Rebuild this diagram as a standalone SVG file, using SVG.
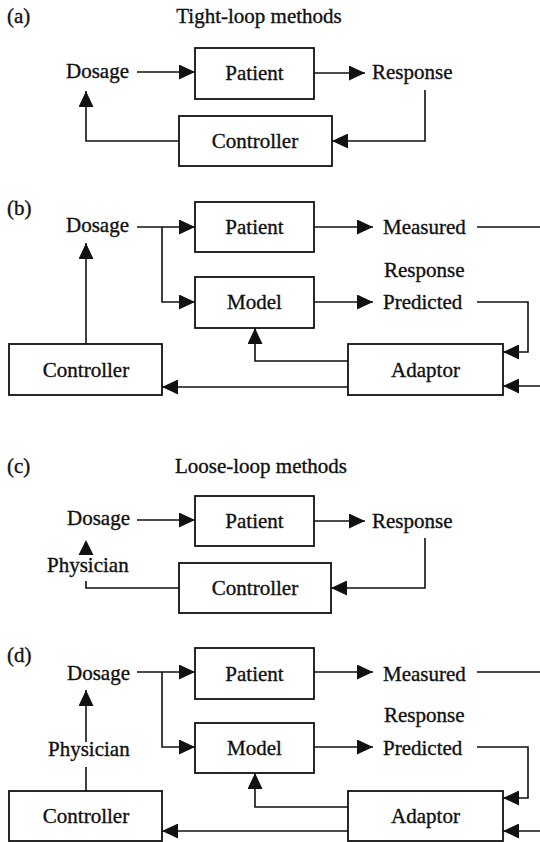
<svg xmlns="http://www.w3.org/2000/svg" width="540" height="842" viewBox="0 0 540 842">
  <style>
    text { font-family: "Liberation Serif", "Times New Roman", serif; font-size: 21px; fill: #111; stroke: #111; stroke-width: 0.35; }
    .mid { text-anchor: middle; }
    .box { fill: #fff; stroke: #111; stroke-width: 1.8; }
    .wire { fill: none; stroke: #111; stroke-width: 1.6; }
    .arr { marker-end: url(#head); }
  </style>
  <defs>
    <marker id="head" markerUnits="userSpaceOnUse" markerWidth="16" markerHeight="15" refX="16" refY="7.5" orient="auto">
      <path d="M0,0 L16,7.5 L0,15 z" fill="#111"/>
    </marker>
  </defs>

  <rect width="540" height="842" fill="#fff"/>

  <!-- (a) tight loop -->
  <text x="7" y="23">(a)</text>
  <text x="259" y="23" class="mid">Tight-loop methods</text>
  <g id="a-dosage"><text x="66" y="78">Dosage</text></g>
  <g id="a-patient"><rect class="box" x="195" y="48" width="119" height="51"/><text x="254.5" y="80" class="mid">Patient</text></g>
  <g id="a-response"><text x="372" y="79">Response</text></g>
  <g id="a-controller"><rect class="box" x="179" y="116" width="153" height="50"/><text x="255" y="148" class="mid">Controller</text></g>

  <!-- (b) tight loop with model -->
  <text x="7" y="215">(b)</text>
  <g id="b-dosage"><text x="66" y="232">Dosage</text></g>
  <g id="b-patient"><rect class="box" x="195" y="202" width="119" height="50"/><text x="254.5" y="234" class="mid">Patient</text></g>
  <g id="b-model"><rect class="box" x="195" y="277" width="119" height="51"/><text x="254.5" y="309" class="mid">Model</text></g>
  <g id="b-measured"><text x="383" y="234">Measured</text></g>
  <g id="b-response"><text x="384" y="277">Response</text></g>
  <g id="b-predicted"><text x="383" y="309">Predicted</text></g>
  <g id="b-controller"><rect class="box" x="9" y="344" width="153" height="51"/><text x="86" y="377" class="mid">Controller</text></g>
  <g id="b-adaptor"><rect class="box" x="348" y="344" width="155" height="51"/><text x="425.5" y="377" class="mid">Adaptor</text></g>

  <!-- (c) loose loop -->
  <text x="7" y="473">(c)</text>
  <text x="261" y="473" class="mid">Loose-loop methods</text>
  <g id="c-dosage"><text x="67" y="525">Dosage</text></g>
  <g id="c-patient"><rect class="box" x="195" y="496" width="119" height="50"/><text x="254.5" y="528" class="mid">Patient</text></g>
  <g id="c-response"><text x="372" y="528">Response</text></g>
  <g id="c-physician"><text x="47" y="572">Physician</text></g>
  <g id="c-controller"><rect class="box" x="179" y="563" width="152" height="50"/><text x="255" y="595" class="mid">Controller</text></g>

  <!-- (d) loose loop with model -->
  <text x="7" y="662">(d)</text>
  <g id="d-dosage"><text x="67" y="680">Dosage</text></g>
  <g id="d-patient"><rect class="box" x="195" y="648" width="119" height="51"/><text x="254.5" y="681" class="mid">Patient</text></g>
  <g id="d-model"><rect class="box" x="195" y="723" width="119" height="50"/><text x="254.5" y="755" class="mid">Model</text></g>
  <g id="d-measured"><text x="383" y="681">Measured</text></g>
  <g id="d-response"><text x="384" y="722">Response</text></g>
  <g id="d-predicted"><text x="383" y="755">Predicted</text></g>
  <g id="d-physician"><text x="48" y="756">Physician</text></g>
  <g id="d-controller"><rect class="box" x="9" y="791" width="153" height="50"/><text x="86" y="823" class="mid">Controller</text></g>
  <g id="d-adaptor"><rect class="box" x="348" y="791" width="155" height="50"/><text x="425.5" y="823" class="mid">Adaptor</text></g>

  <g id="connectors">
    <!-- (a) -->
    <path class="wire arr" d="M137,72 H195"/>
    <path class="wire arr" d="M314,73 H365"/>
    <path class="wire arr" d="M425,90 V141 H332"/>
    <path class="wire arr" d="M179,141 H86 V91"/>
    <!-- (b) -->
    <path class="wire arr" d="M137,227 H195"/>
    <path class="wire arr" d="M162,227 V302 H195"/>
    <path class="wire arr" d="M314,227 H373"/>
    <path class="wire" d="M477,227 H540"/>
    <path class="wire arr" d="M314,302 H373"/>
    <path class="wire arr" d="M477,302 H528 V352 H503"/>
    <path class="wire arr" d="M540,386 H503"/>
    <path class="wire arr" d="M348,361 H255 V328"/>
    <path class="wire arr" d="M348,387 H162"/>
    <path class="wire arr" d="M86,344 V243"/>
    <!-- (c) -->
    <path class="wire arr" d="M137,520 H195"/>
    <path class="wire arr" d="M314,521 H365"/>
    <path class="wire arr" d="M425,538 V588 H331"/>
    <path class="wire" d="M179,588 H86 V581"/>
    <path d="M86,540 L78.5,555 L93.5,555 z" fill="#111"/>
    <!-- (d) -->
    <path class="wire arr" d="M137,672 H195"/>
    <path class="wire arr" d="M162,672 V747 H195"/>
    <path class="wire arr" d="M314,672 H373"/>
    <path class="wire" d="M477,672 H540"/>
    <path class="wire arr" d="M314,747 H373"/>
    <path class="wire arr" d="M477,747 H528 V798 H503"/>
    <path class="wire arr" d="M540,831 H503"/>
    <path class="wire arr" d="M348,807 H255 V773"/>
    <path class="wire arr" d="M348,831 H162"/>
    <path class="wire arr" d="M86,742 V690"/>
    <path class="wire" d="M86,791 V767"/>
  </g>
</svg>
